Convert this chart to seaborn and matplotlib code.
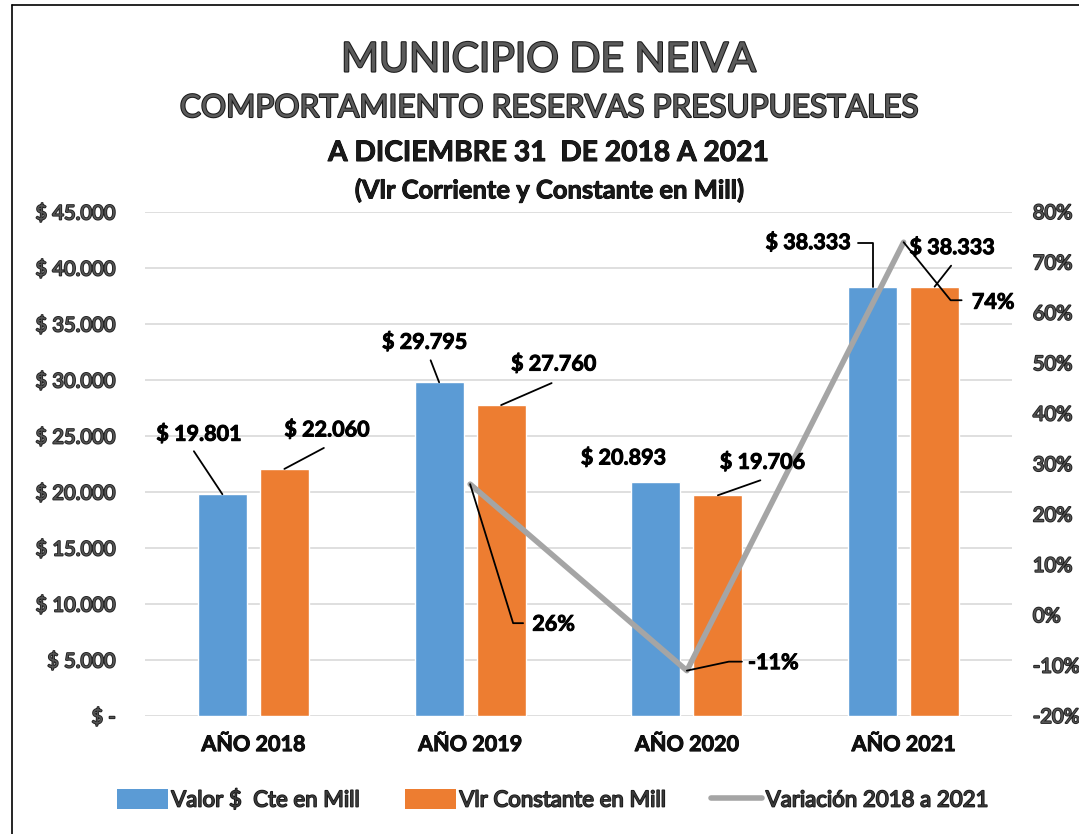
import numpy as np
import pandas as pd
import matplotlib
matplotlib.use("Agg")
import matplotlib.pyplot as plt
import seaborn as sns
from matplotlib import patheffects as pe
from matplotlib.lines import Line2D
from matplotlib.patches import Patch

# ---------------- data ----------------
categories = ["AÑO 2018", "AÑO 2019", "AÑO 2020", "AÑO 2021"]
valor_cte = [19801, 29795, 20893, 38333]
vlr_constante = [22060, 27760, 19706, 38333]
variacion = [np.nan, 0.26, -0.11, 0.74]
series_names = ["Valor $  Cte en Mill", "Vlr Constante en Mill", "Variación 2018 a 2021"]
left_ticks = [0, 5000, 10000, 15000, 20000, 25000, 30000, 35000, 40000, 45000]
right_ticks = [-0.2, -0.1, 0.0, 0.1, 0.2, 0.3, 0.4, 0.5, 0.6, 0.7, 0.8]
titles = ["MUNICIPIO DE NEIVA", "COMPORTAMIENTO RESERVAS PRESUPUESTALES",
          "A DICIEMBRE 31  DE 2018 A 2021", "(Vlr Corriente y Constante en Mill)"]

BLUE, ORANGE, GRAY = "#5B9BD5", "#ED7D31", "#A5A5A5"

sns.set_theme(style="white")
plt.rcParams["font.family"] = ["Lato", "DejaVu Sans"]

W, H = 1079, 834
fig = plt.figure(figsize=(W / 100, H / 100), dpi=100)
ax = fig.add_axes([145 / W, 118 / H, 867 / W, 504 / H])

df = pd.DataFrame({
    "cat": categories * 2,
    "serie": [series_names[0]] * len(categories) + [series_names[1]] * len(categories),
    "valor": valor_cte + vlr_constante,
})
sns.barplot(data=df, x="cat", y="valor", hue="serie", palette=[BLUE, ORANGE],
            width=0.572, gap=0.21, saturation=1, errorbar=None, legend=False, ax=ax)
ax.set_xlim(-0.5, len(categories) - 0.5)
ax.set_ylim(left_ticks[0], left_ticks[-1])
ax.set_yticks(left_ticks)
ax.set_axisbelow(True)
ax.yaxis.grid(True, color="#D9D9D9", lw=1.2)
ax.xaxis.grid(False)
for s in ax.spines.values():
    s.set_visible(False)
ax.set_xlabel("")
ax.set_ylabel("")

outline = [pe.withStroke(linewidth=1.3, foreground="#1f1f1f")]
bolder = [pe.withStroke(linewidth=0.7, foreground="black")]


def money(v):
    return "$ -" if v == 0 else "$ " + f"{v:,.0f}".replace(",", ".")


ax.set_yticklabels([money(v) for v in left_ticks])
ax.tick_params(axis="y", length=0, pad=21, labelsize=14.5, labelcolor="#555555")
ax.tick_params(axis="x", length=0, pad=13, labelsize=15.5)
for t in ax.get_yticklabels():
    t.set_path_effects(outline)
for t in ax.get_xticklabels():
    t.set_fontweight("bold")
    t.set_color("#111111")
    t.set_path_effects(bolder)

ax2 = ax.twinx()
xpos = np.arange(len(categories))
sns.lineplot(x=xpos, y=variacion, ax=ax2, color=GRAY, lw=4, legend=False)
ax2.set_ylim(right_ticks[0], right_ticks[-1])
ax2.set_yticks(right_ticks)
ax2.set_yticklabels([f"{v * 100:.0f}%" for v in right_ticks])
ax2.tick_params(axis="y", length=0, pad=15, labelsize=14.5, labelcolor="#555555")
for t in ax2.get_yticklabels():
    t.set_path_effects(outline)
for s in ax2.spines.values():
    s.set_visible(False)
ax2.set_ylabel("")
ax2.grid(False)

fig.canvas.draw()


def label(axis, x, y, text, toff, path=None):
    """text offset and leader path in image pixels (dx right, dy down) from a data point"""
    bx, by = axis.transData.transform((x, y))
    if path:
        xs = [bx + p[0] for p in path]
        ys = [by - p[1] for p in path]
        fig.add_artist(Line2D(xs, ys, transform=None, color="black", lw=1.3))
    fig.text((bx + toff[0]) / W, (by - toff[1]) / H, text, ha="center", va="center",
             fontsize=15.5, fontweight="bold", color="black", path_effects=bolder)


off = 0.143
label(ax, 0 - off, valor_cte[0], money(valor_cte[0]), (-23.5, -60), [(-28.5, -43), (0, 0)])
label(ax, 0 + off, vlr_constante[0], money(vlr_constante[0]), (42.5, -39), [(39.5, -21), (0, 0)])
label(ax, 1 - off, valor_cte[1], money(valor_cte[1]), (-14.5, -40), [(-8.5, -22), (0, 0)])
label(ax, 1 + off, vlr_constante[1], money(vlr_constante[1]), (52.5, -41), [(50.5, -22), (0, 0)])
label(ax, 2 - off, valor_cte[2], money(valor_cte[2]), (-32.5, -24))
label(ax, 2 + off, vlr_constante[2], money(vlr_constante[2]), (44.5, -33), [(42.5, -15), (0, 0)])
label(ax, 3 - off, valor_cte[3], money(valor_cte[3]), (-64.5, -44), [(-14.5, -44), (0, -44), (0, 0)])
label(ax, 3 + off, vlr_constante[3], money(vlr_constante[3]), (17.5, -39), [(16.5, -21), (0, 0)])
label(ax2, 1, variacion[1], f"{variacion[1] * 100:.0f}%", (83.5, 140), [(0, 0), (43, 139), (53, 139)])
label(ax2, 2, variacion[2], f"{variacion[2] * 100:.0f}%", (86.5, -8), [(0, 0), (42, -9), (55, -9)])
label(ax2, 3, variacion[3], f"{variacion[3] * 100:.0f}%", (89.5, 60), [(0, 0), (47, 58), (58, 58)])

# titles
title_style = [(60, 29.4, True), (108, 22.7, True), (153, 20.3, False), (190, 18.4, False)]
for txt, (yy, fs, outlined) in zip(titles, title_style):
    fig.text(549 / W, 1 - yy / H, txt, ha="center", va="center", fontsize=fs,
             color="#5a5a5a" if outlined else "#1a1a1a",
             fontweight="normal" if outlined else "bold",
             path_effects=[pe.withStroke(linewidth=1.5, foreground="#1a1a1a")] if outlined else bolder)

# legend
handles = [Patch(facecolor=BLUE, edgecolor="none"), Patch(facecolor=ORANGE, edgecolor="none"),
           Line2D([0], [0], color=GRAY, lw=4)]
leg = fig.legend(handles, series_names, loc="center", bbox_to_anchor=(553 / W, 1 - 800 / H),
                 ncol=3, frameon=False, fontsize=16, handlelength=2.3, handleheight=0.95,
                 columnspacing=2.0, handletextpad=0.15)
for t in leg.get_texts():
    t.set_color("#3a3a3a")
    t.set_path_effects([pe.withStroke(linewidth=1.1, foreground="#111111")])

# outer frame (top and left edges visible)
fig.add_artist(Line2D([12 / W, 12 / W], [0, 1 - 5 / H], transform=fig.transFigure, color="black", lw=1.2))
fig.add_artist(Line2D([12 / W, 1], [1 - 5 / H, 1 - 5 / H], transform=fig.transFigure, color="black", lw=1.2))

fig.savefig("out.png", dpi=100)
